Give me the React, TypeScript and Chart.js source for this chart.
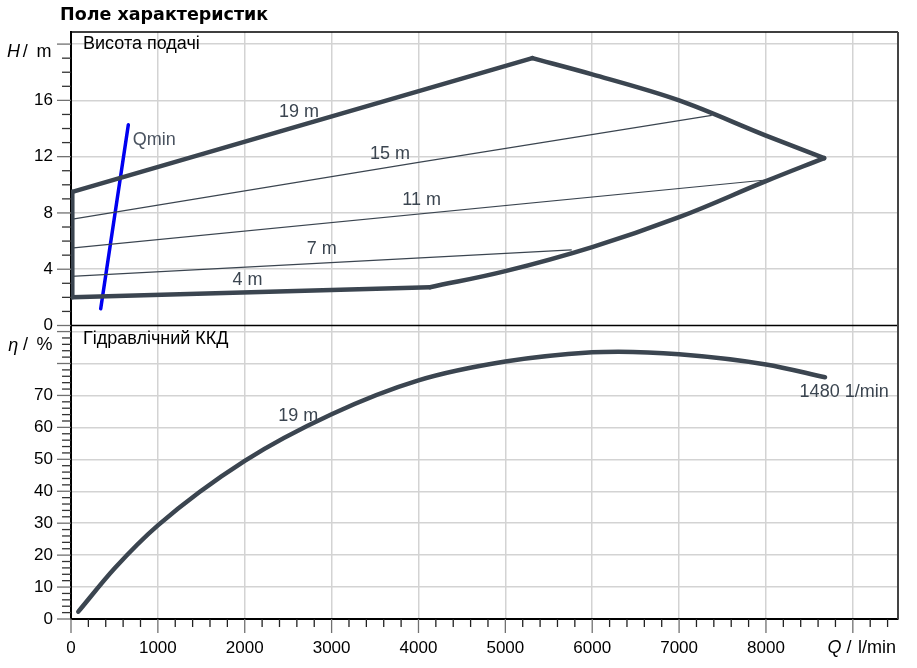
import { useEffect, useRef } from 'react';
import { Chart, registerables } from 'chart.js';

Chart.register(...registerables);

// flow Q in l/min, head H in m, efficiency in %
const envTopQ = [15, 2636, 5311];
const envTopH = [9.5, 14.2, 19.0];
const envRightQ = [5311, 6000, 7000, 8000, 8670];
const envRightH = [19.0, 17.85, 16.0, 13.5, 11.9];
const envLowQ = [4133, 5000, 6000, 7000, 8000, 8670];
const envLowH = [2.72, 3.86, 5.57, 7.7, 10.26, 11.9];
const envBottomQ = [15, 4133];
const envBottomH = [2.0, 2.72];
const envLeftQ = [15, 15];
const envLeftH = [2.0, 9.5];

const line15Q = [0, 4000, 7376];
const line15H = [7.54, 11.6, 14.94];
const line11Q = [0, 8028];
const line11H = [5.5, 10.36];
const line7Q = [0, 5764];
const line7H = [3.49, 5.38];

const qminQ = [342, 660];
const qminH = [1.19, 14.27];

const etaQ = [84, 500, 1000, 2000, 3000, 4000, 5000, 6000, 6300, 7000, 8000, 8680];
const etaV = [2.3, 15.8, 29.3, 49.5, 64.1, 74.7, 80.6, 83.5, 83.7, 82.9, 79.7, 75.7];

// curve labels (text + anchor in data units)
const headNoteText = ['19 m', '15 m', '11 m', '7 m', '4 m'];
const headNoteQ = [2625, 3673, 4037, 2886, 2032];
const headNoteH = [15.15, 12.16, 8.89, 5.41, 3.25];
const etaNoteText = ['19 m', '1480 1/min'];
const etaNoteQ = [2617, 8900];
const etaNoteV = [63.4, 71.0];

const ink = '#3b4550';
const sans = '"Liberation Sans", Arial, sans-serif';

const pts = (qs: number[], vs: number[]) => qs.map((q, i) => ({ x: q, y: vs[i] }));

const decor = {
  id: 'decor',
  beforeDatasetsDraw(chart: any) {
    const { ctx, chartArea: a, scales } = chart;
    const { x, yH, yE } = scales;
    ctx.save();
    ctx.lineWidth = 1.3;
    x.ticks.forEach((t: any) => {
      const major = t.value % 1000 === 0;
      const px = x.getPixelForValue(t.value);
      ctx.strokeStyle = major ? '#707070' : '#222';
      ctx.beginPath();
      ctx.moveTo(px, a.bottom);
      ctx.lineTo(px, a.bottom + (major ? 14 : 8));
      ctx.stroke();
    });
    const yTicks = (s: any, step: number) => {
      s.ticks.forEach((t: any) => {
        const major = t.value % step === 0;
        const py = s.getPixelForValue(t.value);
        ctx.strokeStyle = major ? '#707070' : '#333';
        ctx.beginPath();
        ctx.moveTo(a.left, py);
        ctx.lineTo(a.left - (major ? 14 : 9), py);
        ctx.stroke();
      });
    };
    yTicks(yH, 4);
    yTicks(yE, 10);

    ctx.strokeStyle = '#000';
    ctx.lineWidth = 1.5;
    ctx.beginPath();
    ctx.moveTo(a.left, a.top);
    ctx.lineTo(a.right, a.top);
    ctx.moveTo(a.left, yH.bottom);
    ctx.lineTo(a.right, yH.bottom);
    ctx.stroke();
    ctx.strokeStyle = '#444';
    ctx.lineWidth = 2;
    ctx.beginPath();
    ctx.moveTo(a.right, a.top);
    ctx.lineTo(a.right, a.bottom);
    ctx.stroke();
    ctx.restore();
  },
  afterDatasetsDraw(chart: any) {
    const { ctx, scales } = chart;
    const { x, yH, yE } = scales;
    ctx.save();
    ctx.textBaseline = 'middle';

    // curve labels
    ctx.fillStyle = ink;
    ctx.font = `18px ${sans}`;
    ctx.textAlign = 'center';
    headNoteText.forEach((s, i) => {
      ctx.fillText(s, x.getPixelForValue(headNoteQ[i]), yH.getPixelForValue(headNoteH[i]));
    });
    etaNoteText.forEach((s, i) => {
      ctx.fillText(s, x.getPixelForValue(etaNoteQ[i]), yE.getPixelForValue(etaNoteV[i]));
    });
    ctx.textAlign = 'left';
    ctx.fillStyle = '#4a5360';
    ctx.fillText('Qmin', x.getPixelForValue(710), yH.getPixelForValue(13.16));

    // panel captions
    ctx.fillStyle = '#000';
    ctx.fillText('Висота подачі', 83, yH.top + 11.6);
    ctx.fillText('Гідравлічний ККД', 83, yE.top + 13.3);

    // axis titles
    const title = (sym: string, unit: string, sx: number, slash: number, ux: number, y: number) => {
      ctx.font = `italic 18px ${sans}`;
      ctx.fillText(sym, sx, y);
      ctx.font = `18px ${sans}`;
      ctx.fillText('/', slash, y);
      ctx.fillText(unit, ux, y);
    };
    title('H', 'm', 7, 22.7, 36.5, yH.top + 20);
    title('η', '%', 8.3, 23, 36.5, yE.top + 20);
    title('Q', 'l/min', 827.5, 846.5, 858, 648);

    // chart title
    ctx.font = `bold 17.5px "DejaVu Sans", Verdana, sans-serif`;
    ctx.textBaseline = 'alphabetic';
    ctx.fillText('Поле характеристик', 60, 19.5);
    ctx.restore();
  },
};

const gridColor = (step: number) => (c: any) =>
  c.tick && c.tick.value !== 0 && c.tick.value % step === 0 ? '#d3d3d3' : 'rgba(0,0,0,0)';

const App = () => {
  const canvasRef = useRef<HTMLCanvasElement>(null);

  useEffect(() => {
    if (!canvasRef.current) return;
    const thick = { borderColor: ink, borderWidth: 4.5, borderCapStyle: 'round', borderJoinStyle: 'round' };
    const thin = { borderColor: ink, borderWidth: 1.2 };
    const chart = new Chart(canvasRef.current, {
      type: 'line',
      data: {
        datasets: [
          { data: pts(envTopQ, envTopH), ...thick },
          { data: pts(envRightQ, envRightH), ...thick, cubicInterpolationMode: 'monotone' },
          { data: pts(envLowQ, envLowH), ...thick, tension: 0.4 },
          { data: pts(envBottomQ, envBottomH), ...thick },
          { data: pts(envLeftQ, envLeftH), ...thick },
          { data: pts(line15Q, line15H), ...thin },
          { data: pts(line11Q, line11H), ...thin },
          { data: pts(line7Q, line7H), ...thin },
          { data: pts(qminQ, qminH), borderColor: '#0000f0', borderWidth: 3.5, borderCapStyle: 'round' },
          { data: pts(etaQ, etaV), ...thick, yAxisID: 'yE', cubicInterpolationMode: 'monotone' },
        ].map((d: any) => ({ yAxisID: 'yH', pointRadius: 0, fill: false, ...d })),
      } as any,
      options: {
        animation: false,
        responsive: true,
        maintainAspectRatio: false,
        events: [],
        layout: { padding: { top: 32, right: 19, left: 0, bottom: 0 } },
        plugins: { legend: { display: false }, tooltip: { enabled: false }, title: { display: false } },
        scales: {
          x: {
            type: 'linear',
            min: 0,
            max: 9520,
            grid: { color: gridColor(1000), lineWidth: 1.5, drawTicks: false },
            border: { color: '#000', width: 2 },
            ticks: {
              stepSize: 200,
              autoSkip: false,
              maxRotation: 0,
              minRotation: 0,
              includeBounds: false,
              padding: 19,
              color: '#000',
              font: { family: sans, size: 17 },
              callback: (v: any) => (v % 1000 === 0 && v < 9000 ? String(v) : ''),
            },
            afterFit: (s: any) => { s.height = 49; },
          },
          yE: {
            type: 'linear',
            position: 'left',
            stack: 'panels',
            stackWeight: 1,
            weight: 0,
            min: 0,
            max: 91.9,
            grid: { color: gridColor(10), lineWidth: 1.5, drawTicks: false },
            border: { color: '#000', width: 2 },
            ticks: {
              stepSize: 2,
              autoSkip: false,
              includeBounds: false,
              padding: 18,
              color: '#000',
              font: { family: sans, size: 17 },
              callback: (v: any) => (v % 10 === 0 && v <= 70 ? String(v) : ''),
            },
            afterFit: (s: any) => { s.width = 71; },
          },
          yH: {
            type: 'linear',
            position: 'left',
            stack: 'panels',
            stackWeight: 1,
            weight: 1,
            min: 0,
            max: 20.86,
            grid: { color: gridColor(4), lineWidth: 1.5, drawTicks: false },
            border: { color: '#000', width: 2 },
            ticks: {
              stepSize: 1,
              autoSkip: false,
              includeBounds: false,
              padding: 18,
              color: '#000',
              font: { family: sans, size: 17 },
              callback: (v: any) => (v % 4 === 0 && v < 20 ? String(v) : ''),
            },
            afterFit: (s: any) => { s.width = 71; },
          },
        },
      } as any,
      plugins: [decor],
    });
    return () => chart.destroy();
  }, []);

  return (
    <div style={{ position: 'fixed', left: 0, top: 0, width: 917, height: 668, background: '#fff' }}>
      <canvas ref={canvasRef} />
    </div>
  );
};

export default App;
